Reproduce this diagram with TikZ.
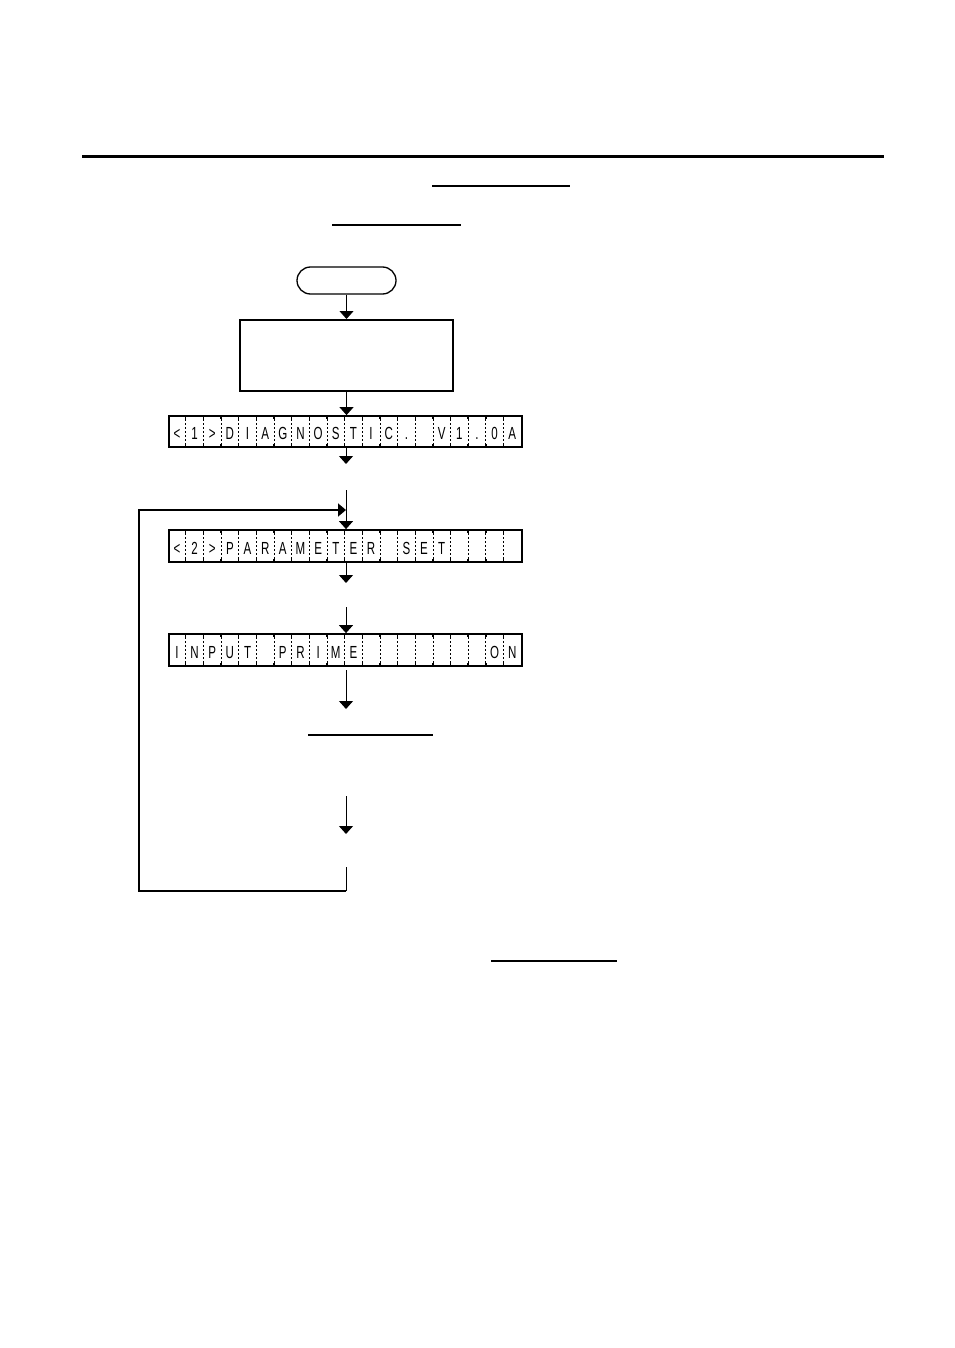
\documentclass[tikz,border=0pt]{standalone}
\usepackage{fontspec}
\newfontfamily\lcdfont[FakeStretch=0.66]{Liberation Sans}
\usetikzlibrary{arrows.meta}
\tikzset{
  conn/.style={line width=1pt},
  arr/.style={line width=1pt,-{Triangle[width=14pt 0,length=8pt 0]}},
  looparr/.style={line width=1.7pt,-{Triangle[width=13pt 0,length=8pt 0]}},
  lcdbox/.style={draw,line width=1.8pt,minimum width=353pt,inner sep=0pt},
  lcdchar/.style={anchor=base,inner sep=0pt,font=\lcdfont\fontsize{17.5}{19}\selectfont},
  lcdsep/.style={line width=0.7pt,dash pattern=on 2pt off 2pt},
  lcdtick/.style={line width=1.4pt},
  rulel/.style={line width=#1},
}
\newcommand\lcdrow[2]{%
  \foreach \c [count=\i] in {#2} {
    \node[lcdchar] at ([xshift={(\i-0.5)*17.65pt},yshift=8pt]#1.south west) {\c};
  }
  \foreach \i in {1,...,19} {
    \draw[lcdsep] ([xshift={\i*17.65pt}]#1.north west) -- ([xshift={\i*17.65pt}]#1.south west);
    \draw[lcdtick] ([xshift={\i*17.65pt}]#1.north west) -- ([xshift={\i*17.65pt},yshift=-3.5pt]#1.north west);
    \draw[lcdtick] ([xshift={\i*17.65pt}]#1.south west) -- ([xshift={\i*17.65pt},yshift=3.5pt]#1.south west);
  }
}
\begin{document}
\begin{tikzpicture}[x=1pt,y=-1pt]
\useasboundingbox[fill=white] (0,0) rectangle (954,1348);
% header rules
\coordinate (r1a) at (82,157);  \coordinate (r1b) at (884,157);
\coordinate (r2a) at (432,186); \coordinate (r2b) at (570,186);
\coordinate (r3a) at (332,225); \coordinate (r3b) at (461,225);
\draw[rulel=3pt] (r1a) -- (r1b);
\draw[rulel=1.3pt] (r2a) -- (r2b);
\draw[rulel=2pt] (r3a) -- (r3b);
% nodes
\node[draw,line width=1.3pt,rounded corners=13.5pt,minimum width=99pt,minimum height=27pt,inner sep=0pt] (start) at (346.5,280.5) {};
\node[draw,line width=2pt,minimum width=213pt,minimum height=71pt,inner sep=0pt] (box) at (346.5,355.5) {};
\node[lcdbox,minimum height=31pt] (lcd1) at (345.5,431.5) {};
\node[lcdbox,minimum height=32pt] (lcd2) at (345.5,546) {};
\node[lcdbox,minimum height=32pt] (lcd3) at (345.5,650) {};
\lcdrow{lcd1}{<,1,>,D,I,A,G,N,O,S,T,I,C,.,{},V,1,.,0,A}
\lcdrow{lcd2}{<,2,>,P,A,R,A,M,E,T,E,R,{},S,E,T,{},{},{},{}}
\lcdrow{lcd3}{I,N,P,U,T,{},P,R,I,M,E,{},{},{},{},{},{},{},O,N}
% connectors
\draw[arr] (start.south -| box.north) -- (box.north);
\draw[arr] (box.south) -- (box.south |- lcd1.north);
\coordinate (e1) at (346,464);
\draw[arr] (lcd1.south -| e1) -- (e1);
\coordinate (s2) at (346,490);
\draw[arr] (s2) -- (s2 |- lcd2.north);
\coordinate (e2) at (346,583);
\draw[arr] (lcd2.south -| e2) -- (e2);
\coordinate (s3) at (346,607);
\draw[arr] (s3) -- (s3 |- lcd3.north);
\coordinate (s4) at (346,670);
\coordinate (e4) at (346,709);
\draw[arr] (s4) -- (e4);
\coordinate (u1a) at (308,735); \coordinate (u1b) at (433,735);
\draw[rulel=2pt] (u1a) -- (u1b);
\coordinate (s5) at (346,796);
\coordinate (e5) at (346,834);
\draw[arr] (s5) -- (e5);
\coordinate (lp0) at (346,867);
\coordinate (lpc) at (139,891);
\coordinate (lpe) at (346,510);
\draw[conn] (lp0) -- (lp0 |- lpc);
\draw[looparr] (lp0 |- lpc) -- (lpc) |- (lpe);
\coordinate (u2a) at (491,961); \coordinate (u2b) at (617,961);
\draw[rulel=1.5pt] (u2a) -- (u2b);
\end{tikzpicture}
\end{document}
